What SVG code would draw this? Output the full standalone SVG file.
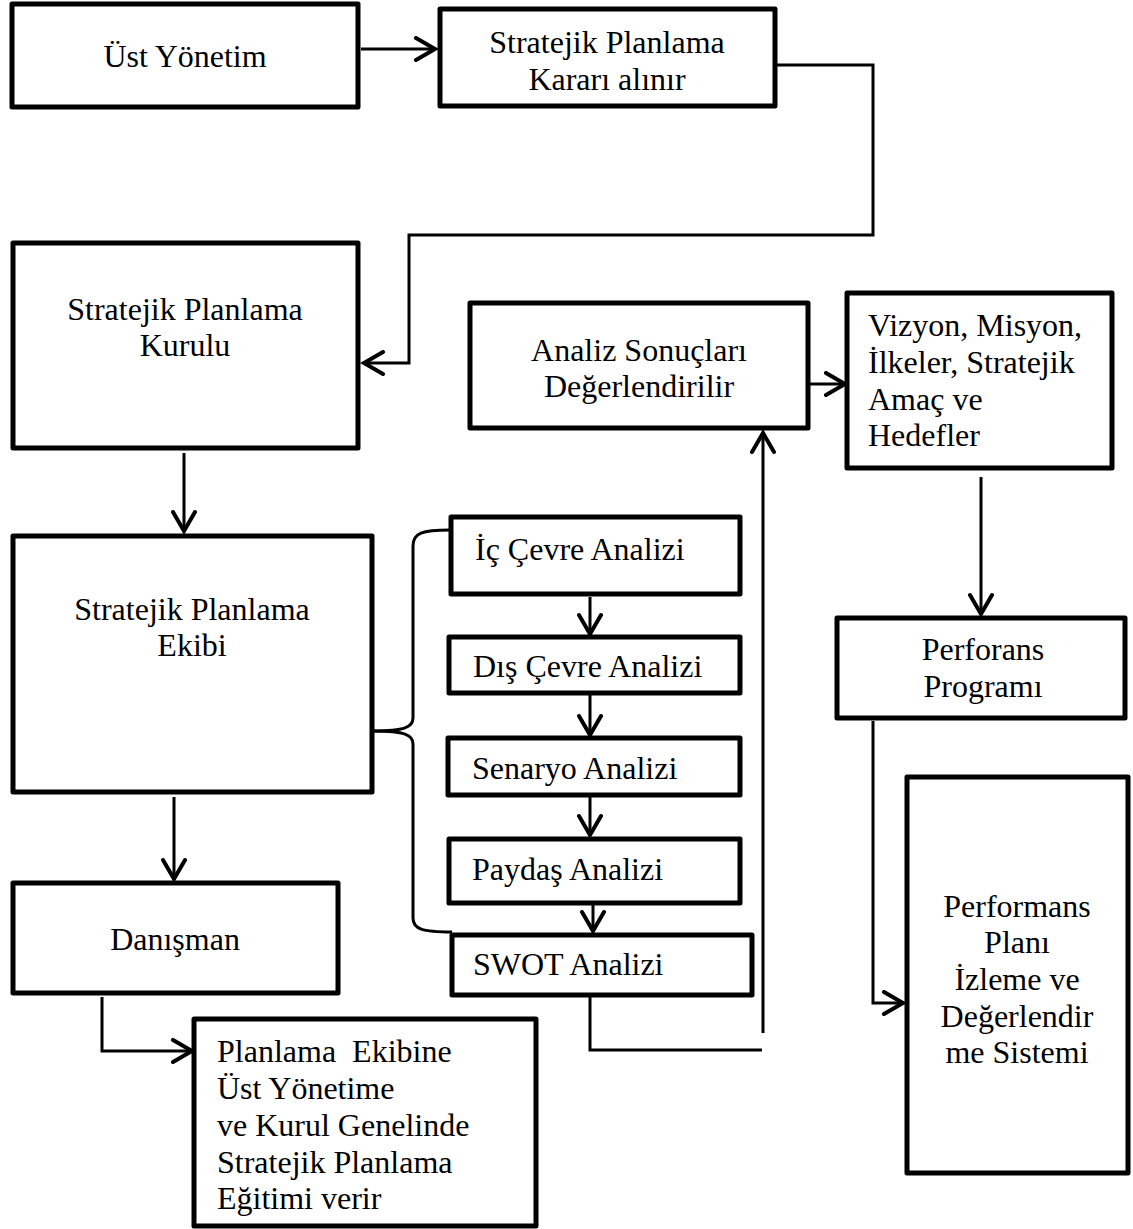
<svg xmlns="http://www.w3.org/2000/svg" width="1133" height="1229" viewBox="0 0 1133 1229">
  <style>
    .box { fill: #ffffff; stroke: #000000; stroke-width: 5; stroke-linejoin: round; }
    .t { font-family: "Liberation Serif", "Times New Roman", serif; font-size: 32px; fill: #000000; white-space: pre; }
    .c { text-anchor: middle; }
    .wire { fill: none; stroke: #000000; stroke-width: 3; }
  </style>
  <defs>
    <marker id="head" markerUnits="userSpaceOnUse" viewBox="-22 -13 26 26" refX="0" refY="0" markerWidth="26" markerHeight="26" orient="auto">
      <path d="M-19,-11 L0,0 L-19,11" fill="none" stroke="#000000" stroke-width="4" stroke-linecap="round" stroke-linejoin="miter"/>
    </marker>
  </defs>

  <rect width="1133" height="1229" fill="#ffffff"/>

  <!-- connectors -->
  <g id="connectors" class="wire">
    <path d="M361,49 L435,49" marker-end="url(#head)"/>
    <path d="M776,65 L873,65 L873,235 L409,235 L409,363 L364,363" marker-end="url(#head)"/>
    <path d="M184,453 L184,531" marker-end="url(#head)"/>
    <path d="M174,797 L174,879" marker-end="url(#head)"/>
    <path d="M102,997 L102,1051 L192,1051" marker-end="url(#head)"/>
    <path d="M590,597 L590,634" marker-end="url(#head)"/>
    <path d="M590,695 L590,735" marker-end="url(#head)"/>
    <path d="M590,797 L590,835" marker-end="url(#head)"/>
    <path d="M593,905 L593,931" marker-end="url(#head)"/>
    <path d="M590,997 L590,1050 L762,1050"/>
    <path d="M763,1033 L763,433" marker-end="url(#head)"/>
    <path d="M810,384 L845,384" marker-end="url(#head)"/>
    <path d="M981,477 L981,614" marker-end="url(#head)"/>
    <path d="M873,721 L873,1003 L903,1003" marker-end="url(#head)"/>
    <!-- brace joining the team to the analysis steps -->
    <path d="M450,530 C422,530 413,533 413,546 L413,718 C413,727 405,731 373,731"/>
    <path d="M373,731 C405,731 413,735 413,744 L413,918 C413,929 422,932 452,932"/>
  </g>

  <g id="ust-yonetim">
    <rect class="box" x="12" y="4" width="346" height="103"/>
    <text class="t c" x="185" y="67">Üst Yönetim</text>
  </g>

  <g id="karar">
    <rect class="box" x="440" y="9" width="335" height="97"/>
    <text class="t c" x="607" y="53">Stratejik Planlama</text>
    <text class="t c" x="607" y="90">Kararı alınır</text>
  </g>

  <g id="kurul">
    <rect class="box" x="13" y="243" width="345" height="205"/>
    <text class="t c" x="185" y="320">Stratejik Planlama</text>
    <text class="t c" x="185" y="356">Kurulu</text>
  </g>

  <g id="ekip">
    <rect class="box" x="13" y="536" width="359" height="256"/>
    <text class="t c" x="192" y="620">Stratejik Planlama</text>
    <text class="t c" x="192" y="656">Ekibi</text>
  </g>

  <g id="danisman">
    <rect class="box" x="13" y="883" width="325" height="110"/>
    <text class="t c" x="175" y="950">Danışman</text>
  </g>

  <g id="egitim">
    <rect class="box" x="194" y="1019" width="342" height="207"/>
    <text class="t" x="217" y="1062" xml:space="preserve">Planlama  Ekibine</text>
    <text class="t" x="217" y="1099">Üst Yönetime</text>
    <text class="t" x="217" y="1136">ve Kurul Genelinde</text>
    <text class="t" x="217" y="1173">Stratejik Planlama</text>
    <text class="t" x="217" y="1209">Eğitimi verir</text>
  </g>

  <g id="ic-cevre">
    <rect class="box" x="451" y="517" width="289" height="77"/>
    <text class="t" x="475" y="560">İç Çevre Analizi</text>
  </g>

  <g id="dis-cevre">
    <rect class="box" x="449" y="637" width="291" height="56"/>
    <text class="t" x="473" y="677">Dış Çevre Analizi</text>
  </g>

  <g id="senaryo">
    <rect class="box" x="448" y="738" width="292" height="57"/>
    <text class="t" x="472" y="779">Senaryo Analizi</text>
  </g>

  <g id="paydas">
    <rect class="box" x="449" y="839" width="291" height="64"/>
    <text class="t" x="472" y="880">Paydaş Analizi</text>
  </g>

  <g id="swot">
    <rect class="box" x="452" y="935" width="300" height="60"/>
    <text class="t" x="473" y="975">SWOT Analizi</text>
  </g>

  <g id="analiz-sonuclari">
    <rect class="box" x="470" y="303" width="338" height="125"/>
    <text class="t c" x="639" y="361">Analiz Sonuçları</text>
    <text class="t c" x="639" y="397">Değerlendirilir</text>
  </g>

  <g id="vizyon">
    <rect class="box" x="847" y="293" width="265" height="175"/>
    <text class="t" x="868" y="336">Vizyon, Misyon,</text>
    <text class="t" x="868" y="373">İlkeler, Stratejik</text>
    <text class="t" x="868" y="410">Amaç ve</text>
    <text class="t" x="868" y="446">Hedefler</text>
  </g>

  <g id="perforans">
    <rect class="box" x="837" y="618" width="288" height="100"/>
    <text class="t c" x="983" y="660">Perforans</text>
    <text class="t c" x="983" y="697">Programı</text>
  </g>

  <g id="performans-plani">
    <rect class="box" x="907" y="777" width="221" height="396"/>
    <text class="t c" x="1017" y="917">Performans</text>
    <text class="t c" x="1017" y="953">Planı</text>
    <text class="t c" x="1017" y="990">İzleme ve</text>
    <text class="t c" x="1017" y="1027">Değerlendir</text>
    <text class="t c" x="1017" y="1063">me Sistemi</text>
  </g>
</svg>
